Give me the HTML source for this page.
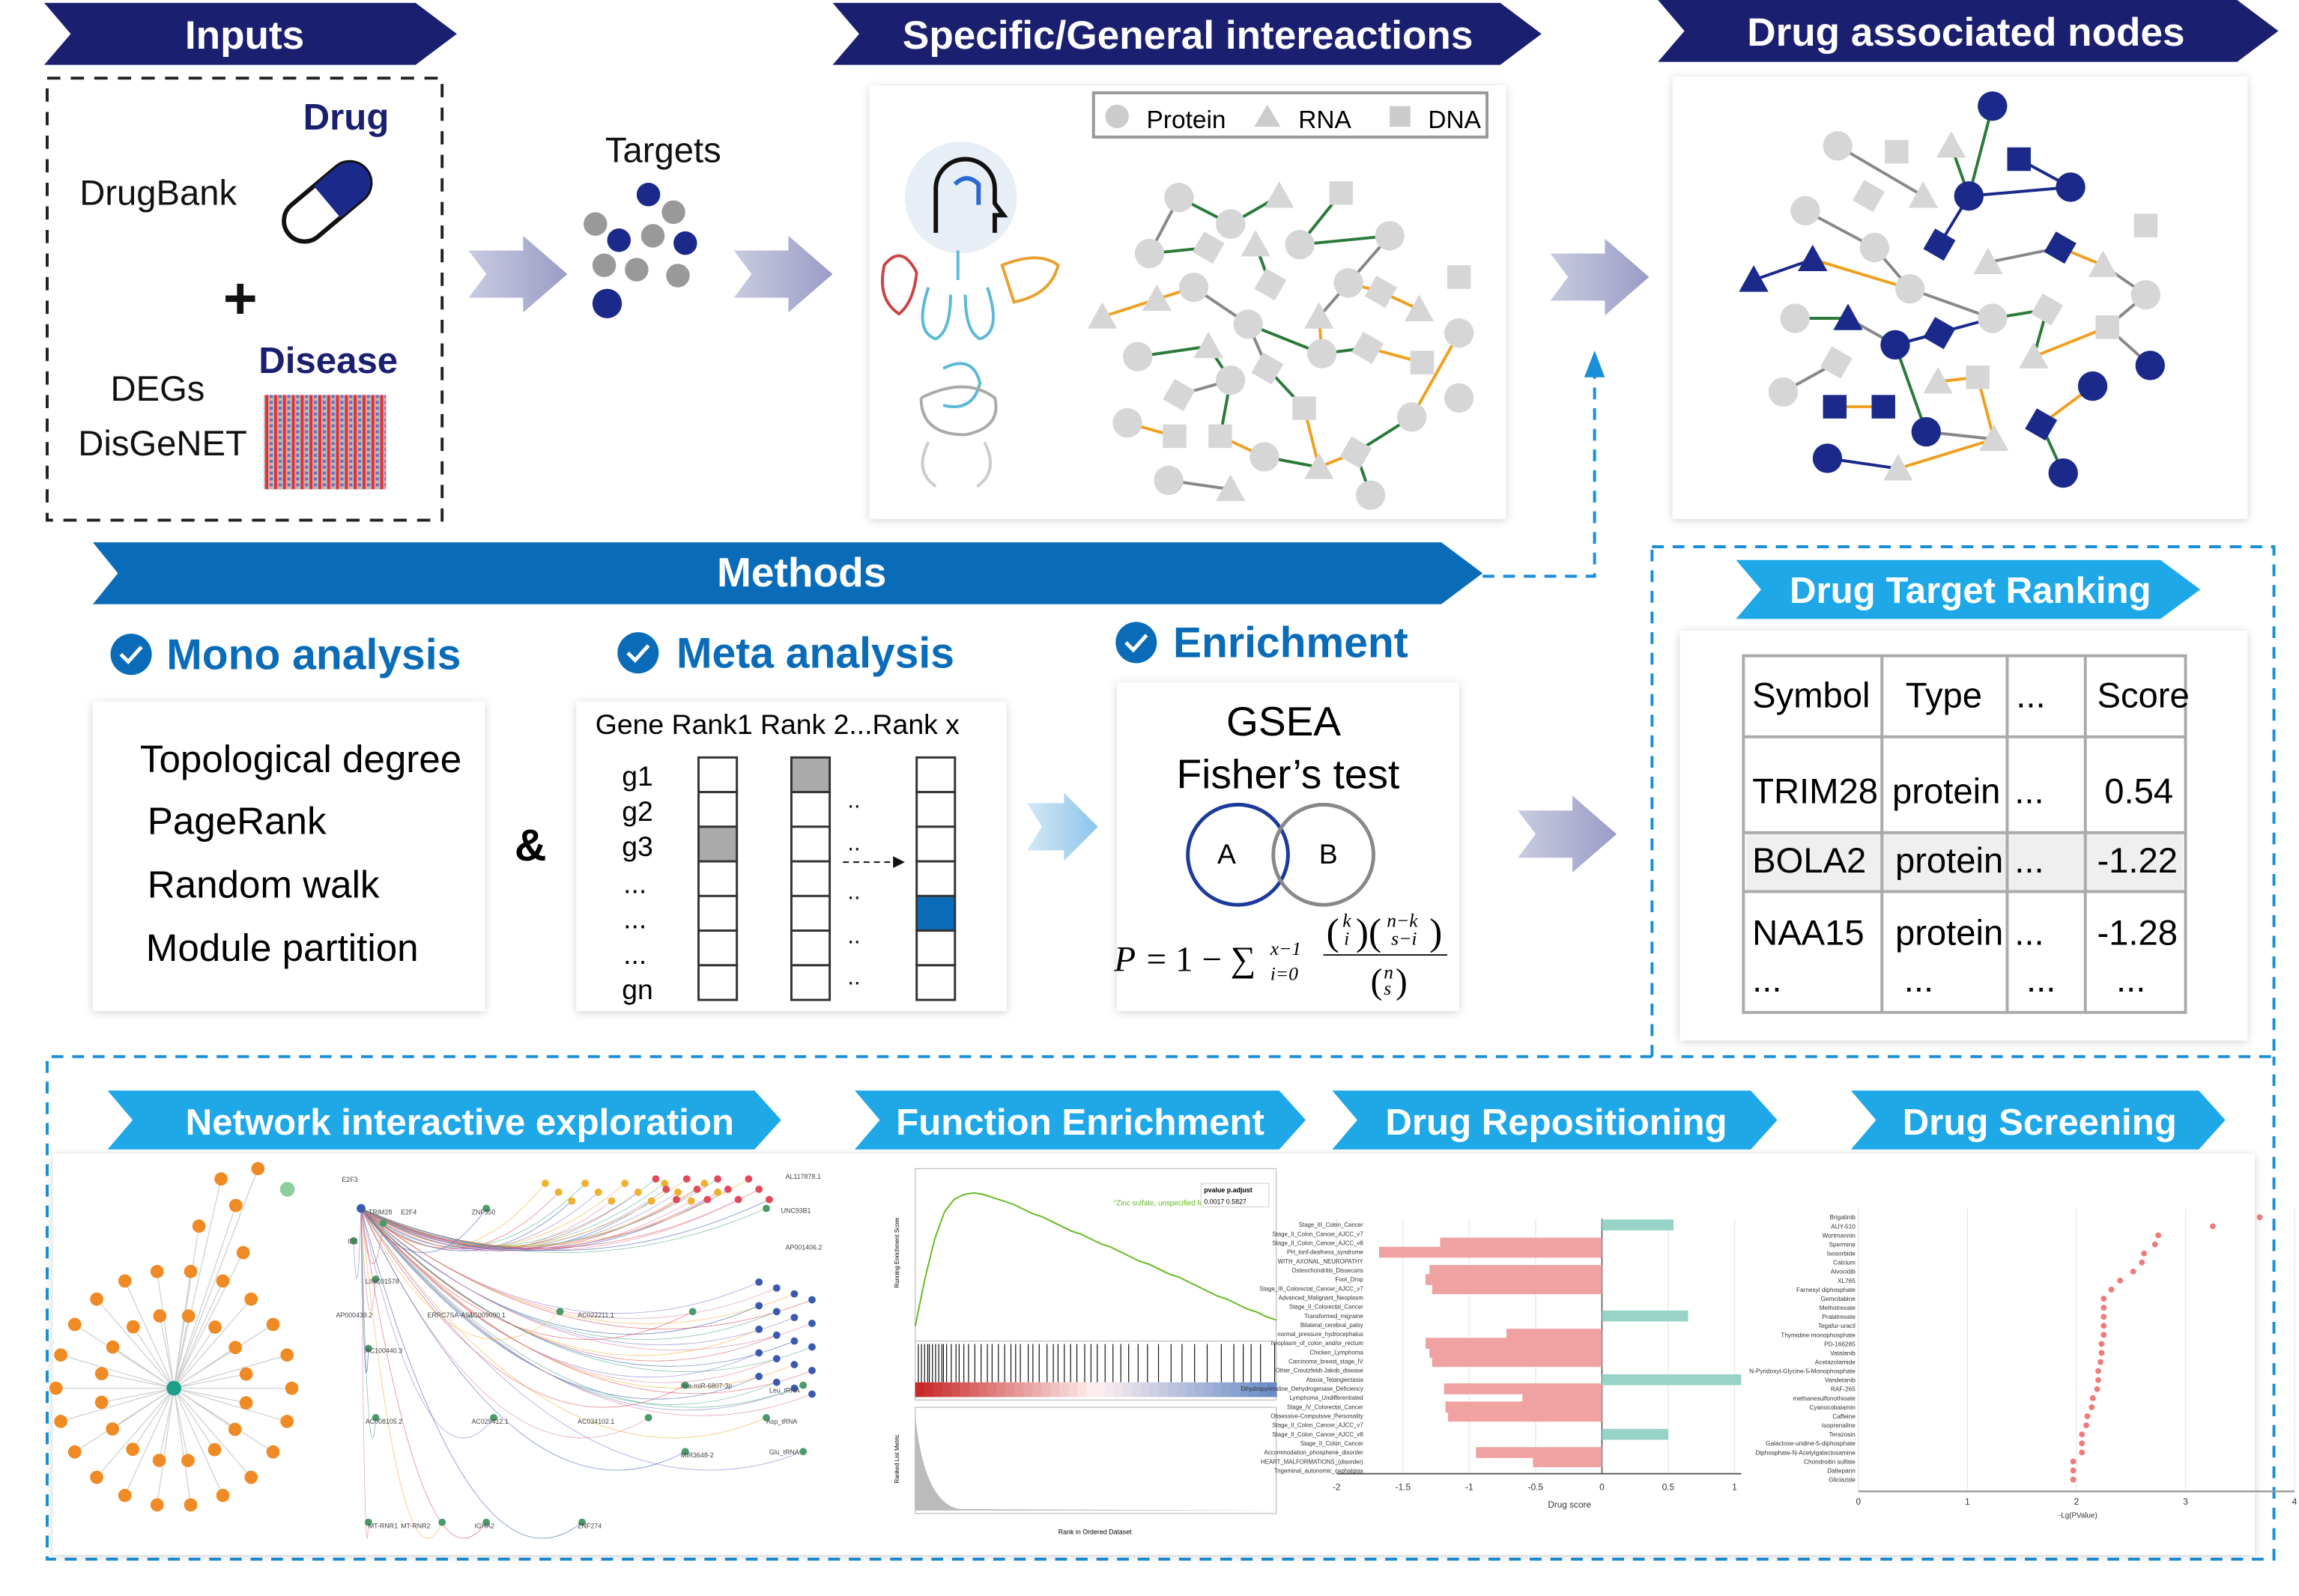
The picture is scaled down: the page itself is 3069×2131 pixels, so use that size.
<!DOCTYPE html>
<html><head><meta charset="utf-8">
<style>
html,body{margin:0;padding:0;background:#fff;}
svg{display:block;font-family:"Liberation Sans",Arial,sans-serif;}
</style></head>
<body>
<svg id="root" width="3069" height="2131" viewBox="0 0 1560 1083" preserveAspectRatio="none" xmlns="http://www.w3.org/2000/svg">
<defs>
<filter id="sh" x="-5%" y="-5%" width="110%" height="110%"><feDropShadow dx="0" dy="1" stdDeviation="3" flood-color="#000" flood-opacity="0.18"/></filter>
<linearGradient id="ga" x1="0" x2="1"><stop offset="0" stop-color="#c9cbe0"/><stop offset="1" stop-color="#9a9cc6"/></linearGradient>
<linearGradient id="gb" x1="0" x2="1"><stop offset="0" stop-color="#d4e8f6"/><stop offset="1" stop-color="#8cc4ea"/></linearGradient>
<pattern id="heat" width="6" height="4" patternUnits="userSpaceOnUse"><rect width="6" height="4" fill="#e8a0a8"/><rect width="2" height="4" fill="#d33"/><rect x="3" width="2" height="2" fill="#4a7ac8"/><rect x="4" y="2" width="2" height="2" fill="#9cc"/></pattern>
</defs>

<g>
<polygon points="30,2 282,2 310,23 282,44 30,44 48,23" fill="#1b1f70"/>
<text x="166" y="33" font-size="27" font-weight="bold" fill="#fff" text-anchor="middle">Inputs</text></g>
<g>
<polygon points="565,2 1018,2 1046,23 1018,44 565,44 583,23" fill="#1b1f70"/>
<text x="806" y="33" font-size="27" font-weight="bold" fill="#fff" text-anchor="middle">Specific/General intereactions</text></g>
<g>
<polygon points="1125,0 1518,0 1546,21 1518,42 1125,42 1143,21" fill="#1b1f70"/>
<text x="1334" y="31" font-size="27" font-weight="bold" fill="#fff" text-anchor="middle">Drug associated nodes</text></g>

<g>
<rect x="32" y="53" width="268" height="300" fill="none" stroke="#222" stroke-width="2" stroke-dasharray="9,7"/>
<text x="264" y="88" font-size="25" font-weight="bold" fill="#1b1f70" text-anchor="end">Drug</text>
<text x="54" y="139" font-size="24" fill="#111">DrugBank</text>
<g transform="translate(222,137) rotate(-40)">
<rect x="-34" y="-14" width="68" height="28" rx="14" fill="#fff" stroke="#111" stroke-width="3"/>
<path d="M0,-14 h20 a14,14 0 0 1 0,28 h-20 z" fill="#1b2a8a"/></g>
<text x="163" y="216" font-size="40" font-weight="bold" fill="#111" text-anchor="middle">+</text>
<text x="270" y="253" font-size="25" font-weight="bold" fill="#1b1f70" text-anchor="end">Disease</text>
<text x="75" y="272" font-size="24" fill="#111">DEGs</text>
<text x="53" y="309" font-size="24" fill="#111">DisGeNET</text>
<rect x="179" y="268" width="83" height="64" fill="url(#heat)"/>
</g>

<polygon points="318,170 355,170 355,160 385,186 355,212 355,202 318,202 330,186" fill="url(#ga)"/>
<polygon points="498,170 535,170 535,160 565,186 535,212 535,202 498,202 510,186" fill="url(#ga)"/>
<polygon points="1052,172 1089,172 1089,162 1119,188 1089,214 1089,204 1052,204 1064,188" fill="url(#ga)"/>

<g>
<text x="450" y="110" font-size="24" fill="#111" text-anchor="middle">Targets</text>
<circle cx="440" cy="132" r="8" fill="#1b2a8a"/><circle cx="404" cy="152" r="8" fill="#999"/><circle cx="420" cy="163" r="8" fill="#1b2a8a"/>
<circle cx="443" cy="160" r="8" fill="#999"/><circle cx="457" cy="144" r="8" fill="#999"/><circle cx="465" cy="165" r="8" fill="#1b2a8a"/>
<circle cx="410" cy="180" r="8" fill="#999"/><circle cx="432" cy="183" r="8" fill="#999"/><circle cx="460" cy="187" r="8" fill="#999"/><circle cx="412" cy="206" r="10" fill="#1b2a8a"/>
</g>

<g>
<rect x="590" y="58" width="432" height="294" fill="#fff" filter="url(#sh)"/>
<rect x="742" y="63" width="267" height="30" fill="#fff" stroke="#999" stroke-width="2"/>
<circle cx="758" cy="79" r="8" fill="#ccc"/><text x="778" y="87" font-size="17">Protein</text>
<polygon points="860,71 869,86 851,86" fill="#ccc"/><text x="881" y="87" font-size="17">RNA</text>
<rect x="943" y="72" width="14" height="14" fill="#ccc"/><text x="969" y="87" font-size="17">DNA</text>
<g fill="none" stroke-width="2">
<circle cx="652" cy="134" r="38" fill="#e8eef6" stroke="none"/>
<path d="M635,158 v-30 a20,20 0 0 1 40,0 v10 l6,8 h-6 v12" stroke="#111" stroke-width="3"/>
<path d="M648,125 q8,-8 16,0 v14" stroke="#2a6ad0" stroke-width="3"/>
<path d="M600,180 q12,-15 22,5 q-2,20 -12,28 q-15,-10 -10,-33z" stroke="#c44"/>
<path d="M650,170 v20 M630,195 q-10,30 5,35 q10,-5 10,-30 M670,195 q10,30 -5,35 q-10,-5 -10,-30" stroke="#5bb8d8"/>
<path d="M680,180 q25,-10 38,0 q-5,20 -30,25z" stroke="#e8a030"/>
<path d="M640,250 q20,-10 25,10 q-5,20 -25,15" stroke="#5bb8d8"/>
<path d="M625,270 q30,-15 50,0 q5,20 -20,25 q-30,0 -30,-25" stroke="#aaa"/>
<path d="M630,300 q-10,20 5,30 M668,300 q10,20 -5,30" stroke="#ccc"/>
</g>
<g id="net1"></g>
</g>

<g>
<rect x="1135" y="52" width="390" height="300" fill="#fff" filter="url(#sh)"/>
<g id="net2"></g>
</g>

<g>
<polygon points="63,368 978,368 1006,389 978,410 63,410 80,389" fill="#0a6cb8"/>
<text x="544" y="398" font-size="28" font-weight="bold" fill="#fff" text-anchor="middle">Methods</text></g>
<path d="M1006,391 H1082 V255" fill="none" stroke="#1a8fd8" stroke-width="2" stroke-dasharray="8,6"/>
<polygon points="1082,238 1075,256 1089,256" fill="#1a8fd8"/>

<g>
<circle cx="89" cy="444" r="14" fill="#0a6cb8"/><path d="M82,444 l5,5 l9,-10" stroke="#fff" stroke-width="2.5" fill="none"/>
<text x="113" y="454" font-size="29" font-weight="bold" fill="#0a6cb8">Mono analysis</text>
<rect x="63" y="476" width="266" height="210" fill="#fff" filter="url(#sh)"/>
<text x="95" y="524" font-size="26">Topological degree</text>
<text x="100" y="566" font-size="26">PageRank</text>
<text x="100" y="609" font-size="26">Random walk</text>
<text x="99" y="652" font-size="26">Module partition</text>
</g>
<text x="360" y="584" font-size="30" font-weight="bold" text-anchor="middle">&amp;</text>

<g>
<circle cx="433" cy="443" r="14" fill="#0a6cb8"/><path d="M426,443 l5,5 l9,-10" stroke="#fff" stroke-width="2.5" fill="none"/>
<text x="459" y="453" font-size="29" font-weight="bold" fill="#0a6cb8">Meta analysis</text>
<rect x="391" y="476" width="292" height="210" fill="#fff" filter="url(#sh)"/>
<text x="404" y="498" font-size="19">Gene Rank1 Rank 2...Rank x</text>
<g font-size="19"><text x="422" y="533">g1</text><text x="422" y="557">g2</text><text x="422" y="581">g3</text><text x="423" y="606">...</text><text x="423" y="630">...</text><text x="423" y="654">...</text><text x="422" y="678">gn</text></g>
<g id="rankcols"></g>
<g font-size="16" fill="#111"><text x="575" y="548">..</text><text x="575" y="577">..</text><text x="575" y="610">..</text><text x="575" y="640">..</text><text x="575" y="668">..</text></g>
<path d="M572,585 h38" stroke="#111" stroke-dasharray="4,3"/><polygon points="614,585 606,581 606,589" fill="#111"/>
</g>
<polygon points="697,545 722,545 722,538 745,561 722,584 722,577 697,577 707,561" fill="url(#gb)"/>

<g>
<circle cx="771" cy="436" r="14" fill="#0a6cb8"/><path d="M764,436 l5,5 l9,-10" stroke="#fff" stroke-width="2.5" fill="none"/>
<text x="796" y="446" font-size="29" font-weight="bold" fill="#0a6cb8">Enrichment</text>
<rect x="758" y="463" width="232" height="223" fill="#fff" filter="url(#sh)"/>
<text x="871" y="499" font-size="28" text-anchor="middle">GSEA</text>
<text x="874" y="535" font-size="28" text-anchor="middle">Fisher’s test</text>
<circle cx="840" cy="580" r="34" fill="none" stroke="#1b3a9a" stroke-width="2.5"/>
<circle cx="898" cy="580" r="34" fill="none" stroke="#888" stroke-width="2.5"/>
<text x="826" y="586" font-size="19">A</text><text x="895" y="586" font-size="19">B</text>
<g font-family="Liberation Serif,serif">
<text x="756" y="659" font-size="24" font-style="italic">P</text>
<text x="778" y="659" font-size="24">= 1 − ∑</text>
<text x="862" y="648" font-size="13" font-style="italic">x−1</text>
<text x="862" y="665" font-size="13" font-style="italic">i=0</text>
<text x="900" y="641" font-size="26">(</text><text x="911" y="629" font-size="13" font-style="italic">k</text><text x="912" y="641" font-size="13" font-style="italic">i</text><text x="920" y="641" font-size="26">)(</text>
<text x="941" y="629" font-size="13" font-style="italic">n−k</text><text x="944" y="641" font-size="13" font-style="italic">s−i</text><text x="970" y="641" font-size="26">)</text>
<line x1="898" y1="648" x2="982" y2="648" stroke="#111"/>
<text x="930" y="674" font-size="24">(</text><text x="939" y="664" font-size="13" font-style="italic">n</text><text x="939" y="675" font-size="13" font-style="italic">s</text><text x="947" y="674" font-size="24">)</text>
</g>
</g>
<polygon points="1030,550 1067,550 1067,540 1097,566 1067,592 1067,582 1030,582 1042,566" fill="url(#ga)"/>

<rect x="1121" y="371" width="422" height="346" fill="none" stroke="#1a8fd8" stroke-width="2" stroke-dasharray="8,6"/>
<g>
<polygon points="1178,380 1466,380 1493,400 1466,420 1178,420 1195,400" fill="#1ea8e8"/>
<text x="1337" y="409" font-size="25" font-weight="bold" fill="#fff" text-anchor="middle">Drug Target Ranking</text></g>
<g>
<rect x="1140" y="428" width="385" height="278" fill="#fff" filter="url(#sh)"/>
<rect x="1183" y="445" width="300" height="242" fill="none" stroke="#aaa" stroke-width="2"/>
<rect x="1185" y="565" width="296" height="40" fill="#efefef"/>
<g stroke="#aaa" stroke-width="2"><line x1="1277" y1="445" x2="1277" y2="687"/><line x1="1362" y1="445" x2="1362" y2="687"/><line x1="1415" y1="445" x2="1415" y2="687"/><line x1="1183" y1="500" x2="1483" y2="500"/><line x1="1183" y1="565" x2="1483" y2="565"/><line x1="1183" y1="605" x2="1483" y2="605"/></g>
<g font-size="24"><text x="1189" y="480">Symbol</text><text x="1293" y="480">Type</text><text x="1368" y="480">...</text><text x="1423" y="480">Score</text>
<text x="1189" y="545">TRIM28</text><text x="1284" y="545">protein</text><text x="1367" y="545">...</text><text x="1428" y="545">0.54</text>
<text x="1189" y="592">BOLA2</text><text x="1286" y="592">protein</text><text x="1367" y="592">...</text><text x="1423" y="592">-1.22</text>
<text x="1189" y="641">NAA15</text><text x="1286" y="641">protein</text><text x="1367" y="641">...</text><text x="1423" y="641">-1.28</text>
<text x="1189" y="673">...</text><text x="1292" y="673">...</text><text x="1375" y="673">...</text><text x="1436" y="673">...</text></g>
</g>

<path d="M1121,717 H32 V1058 H1543 V717" fill="none" stroke="#1a8fd8" stroke-width="2" stroke-dasharray="8,6"/>
<rect x="36" y="783" width="1494" height="272" fill="#fff" filter="url(#sh)"/>
<g><polygon points="73,740 512,740 530,760 512,780 73,780 90,760" fill="#1ea8e8"/><text x="312" y="770" font-size="25" font-weight="bold" fill="#fff" text-anchor="middle">Network interactive exploration</text></g>
<g><polygon points="580,740 868,740 886,760 868,780 580,780 597,760" fill="#1ea8e8"/><text x="733" y="770" font-size="25" font-weight="bold" fill="#fff" text-anchor="middle">Function Enrichment</text></g>
<g><polygon points="904,740 1188,740 1206,760 1188,780 904,780 921,760" fill="#1ea8e8"/><text x="1056" y="770" font-size="25" font-weight="bold" fill="#fff" text-anchor="middle">Drug Repositioning</text></g>
<g><polygon points="1256,740 1492,740 1510,760 1492,780 1256,780 1273,760" fill="#1ea8e8"/><text x="1384" y="770" font-size="25" font-weight="bold" fill="#fff" text-anchor="middle">Drug Screening</text></g>

<g id="star"></g>
<g id="arc"></g>
<g id="gsea"></g>
<g id="bars"></g>
<g id="dots"></g>
</svg>

<script>
const repoCategories = ["Stage_III_Colon_Cancer","Stage_II_Colon_Cancer_AJCC_v7","Stage_II_Colon_Cancer_AJCC_v8","PH_tonf-deafness_syndrome","WITH_AXONAL_NEUROPATHY","Osteochondritis_Dissecans","Foot_Drop","Stage_III_Colorectal_Cancer_AJCC_v7","Advanced_Malignant_Neoplasm","Stage_II_Colorectal_Cancer","Transformed_migraine","Bilateral_cerebral_palsy","normal_pressure_hydrocephalus","neoplasm_of_colon_and/or_rectum","Chicken_Lymphoma","Carcinoma_breast_stage_IV","Other_Creutzfeldt-Jakob_disease","Ataxia_Telangiectasia","Dihydropyrimidine_Dehydrogenase_Deficiency","Lymphoma_Undifferentiated","Stage_IV_Colorectal_Cancer","Obsessive-Compulsive_Personality","Stage_II_Colon_Cancer_AJCC_v7","Stage_II_Colon_Cancer_AJCC_v8","Stage_II_Colon_Cancer","Accommodation_phosphene_disorder","HEART_MALFORMATIONS_(disorder)","Trigeminal_autonomic_cephalgias"];
const repoScores = [0.54,0,-1.22,-1.68,0,-1.3,-1.33,-1.28,0,0,0.65,0,-0.72,-1.33,-1.3,-1.28,0,1.05,-1.19,-0.6,-1.18,-1.16,0,0.5,0,-0.95,-0.52,0];
const repoTicks = [-2,-1.5,-1,-0.5,0,0.5,1];
const screenDrugs = ["Brigatinib","AUY-510","Wortmannin","Spermine","Isosorbide","Calcium","Alvocidib","XL765","Farnesyl diphosphate","Gemcitabine","Methotrexate","Pralatrexate","Tegafur-uracil","Thymidine monophosphate","PD-166285","Vatalanib","Acetazolamide","N-Pyridoxyl-Glycine-5-Monophosphate","Vandetanib","RAF-265","methanesulfonothioate","Cyanocobalamin","Caffeine","Isoprenaline","Terazosin","Galactose-uridine-5-diphosphate","Diphosphate-N-Acetylgalactosamine","Chondroitin sulfate","Dalteparin","Gliclazide"];
const screenValues = [3.68,3.25,2.75,2.72,2.62,2.6,2.52,2.4,2.32,2.25,2.25,2.25,2.25,2.25,2.23,2.23,2.22,2.2,2.2,2.19,2.15,2.14,2.1,2.09,2.05,2.05,2.05,1.97,1.97,1.97];
const screenTicks = [0,1,2,3,4];
const gseaScores = [0,0.3,0.55,0.72,0.8,0.83,0.84,0.83,0.81,0.79,0.77,0.74,0.71,0.69,0.66,0.63,0.6,0.58,0.55,0.52,0.5,0.47,0.44,0.41,0.39,0.36,0.33,0.31,0.28,0.25,0.22,0.19,0.17,0.14,0.11,0.09,0.06,0.04];
const gseaHits = [2,4,6,8,9,11,13,15,17,18,20,23,26,28,31,34,38,42,46,49,53,57,61,64,67,72,75,79,84,88,91,95,99,103,108,112,116,121,126,131,136,142,148,155,163,170,178,186,195,203,209,214,220,229];

const NS="http://www.w3.org/2000/svg";
function mk(tag,attrs,parent){const e=document.createElementNS(NS,tag);for(const k in attrs)e.setAttribute(k,attrs[k]);parent.appendChild(e);return e;}
function tx(str,attrs,parent){const e=mk('text',attrs,parent);e.textContent=str;return e;}

(function(){
const g=document.getElementById('bars');
const x0=1087,ux=90,top=827,bottom=1000;
const xs=v=>x0+v*ux;
const rh=(bottom-top)/repoCategories.length;
repoTicks.forEach(t=>{mk('line',{x1:xs(t),x2:xs(t),y1:top,y2:bottom,stroke:'#e6e6e6','stroke-width':0.6},g);
tx(String(t),{x:xs(t),y:bottom+11,'font-size':6,'text-anchor':'middle',fill:'#333'},g);});
mk('line',{x1:xs(-2),x2:xs(1.05),y1:bottom,y2:bottom,stroke:'#555','stroke-width':1},g);
mk('line',{x1:x0,x2:x0,y1:top,y2:bottom,stroke:'#555','stroke-width':0.8},g);
repoScores.forEach((v,i)=>{
 const y=top+i*rh;
 const lbl=tx(repoCategories[i],{x:925,y:y+rh*0.9,'font-size':4,'text-anchor':'end',fill:'#333'},g);
 
 
 if(v!==0){const r=mk('rect',{x:Math.min(xs(v),x0),y:y+0.5,width:Math.abs(v)*ux,height:rh*1.2,fill:v>0?'#98d3c7':'#f0a2a2'},g);
 
 }
});
tx('Drug score',{x:1065,y:1023,'font-size':6,'text-anchor':'middle',fill:'#333'},g);
})();

(function(){
const g=document.getElementById('dots');
const x0=1261,ux=74,top=826,bottom=1004,axisY=1012;
const xs=v=>x0+v*ux;
screenTicks.forEach(t=>{mk('line',{x1:xs(t),x2:xs(t),y1:top-6,y2:axisY,stroke:'#e6e6e6','stroke-width':0.6},g);
tx(String(t),{x:xs(t),y:axisY+9,'font-size':6,'text-anchor':'middle',fill:'#333'},g);});
mk('line',{x1:x0,x2:xs(4),y1:axisY,y2:axisY,stroke:'#999','stroke-width':1.2},g);
const step=(bottom-top)/(screenValues.length-1);
screenValues.forEach((v,i)=>{const y=top+i*step;
 const l=tx(screenDrugs[i],{x:x0-2,y:y+1.5,'font-size':4.2,'text-anchor':'end',fill:'#333'},g);
 
 
 const c=mk('circle',{cx:xs(v),cy:y,r:2,fill:'#ee7c7c'},g);
 
 });
tx('-Lg(PValue)',{x:1410,y:1030,'font-size':5,'text-anchor':'middle',fill:'#333'},g);
})();

(function(){
const g=document.getElementById('gsea');
const L=621,R=866,T=798,B=905;
mk('rect',{x:L,y:T-5,width:R-L,height:B-T+10,fill:'none',stroke:'#bbb','stroke-width':0.6},g);
const ys=v=>B-5-(v/0.9)*(B-T-10);
const n=gseaScores.length;
let d='';gseaScores.forEach((v,i)=>{d+=(i?'L':'M')+(L+i*(R-L)/(n-1))+','+ys(v);});
const p=mk('path',{d:d,fill:'none',stroke:'#66bb22','stroke-width':1},g);


tx('"Zinc sulfate, unspecified form"',{x:790,y:818,'font-size':5,fill:'#66bb22','text-anchor':'middle'},g);
mk('rect',{x:815,y:803,width:46,height:16,fill:'#fff',stroke:'#ccc','stroke-width':0.5},g);
tx('pvalue   p.adjust',{x:817,y:809,'font-size':4.5,'font-weight':'bold'},g);
tx('0.0017   0.5827',{x:817,y:817,'font-size':4.5},g);
mk('rect',{x:L,y:910,width:R-L,height:40,fill:'#fff',stroke:'#bbb','stroke-width':0.6},g);
gseaHits.forEach(h=>{const x=L+h*(R-L)/230;const ln=mk('line',{x1:x,x2:x,y1:912,y2:938,stroke:'#111','stroke-width':0.6},g);
 
 });
for(let i=0;i<40;i++){const t=i/39;const r=t<0.5?Math.round(200+55*t*2):Math.round(255-150*(t-0.5)*2);const gg=t<0.5?Math.round(40+200*t*2):Math.round(240-100*(t-0.5)*2);const b=t<0.5?Math.round(40+200*t*2):Math.round(240-40*(t-0.5)*2);
 mk('rect',{x:L+i*(R-L)/40,y:938,width:(R-L)/40+0.5,height:10,fill:`rgb(${r},${gg},${b})`},g);}
mk('rect',{x:L,y:955,width:R-L,height:72,fill:'#fff',stroke:'#bbb','stroke-width':0.6},g);
mk('path',{d:`M${L},960 Q${L+6},1020 ${L+30},1024 L${R},1025 L${L},1025z`,fill:'#bbb'},g);
tx('Running Enrichment Score',{x:610,y:850,'font-size':4,transform:'rotate(-90 610 850)','text-anchor':'middle'},g);
tx('Ranked List Metric',{x:610,y:990,'font-size':4,transform:'rotate(-90 610 990)','text-anchor':'middle'},g);
tx('Rank in Ordered Dataset',{x:743,y:1041,'font-size':4.5,'text-anchor':'middle'},g);
})();

(function(){
const g=document.getElementById('star');
const cx=118,cy=942;
const pts=[];
for(let i=0;i<22;i++){const a=i/22*Math.PI*2;pts.push([cx+80*Math.cos(a),cy+80*Math.sin(a)]);}
for(let i=0;i<16;i++){const a=i/16*Math.PI*2+0.2;pts.push([cx+50*Math.cos(a),cy+50*Math.sin(a)]);}
pts.push([165,850],[150,800],[175,793],[160,818],[135,832]);
pts.forEach(p=>mk('line',{x1:cx,y1:cy,x2:p[0],y2:p[1],stroke:'#ccc','stroke-width':0.6},g));
pts.forEach(p=>mk('circle',{cx:p[0],cy:p[1],r:4.5,fill:'#f08a24'},g));
mk('circle',{cx:195,cy:807,r:5,fill:'#8ccf9a'},g);
mk('circle',{cx:cx,cy:cy,r:5,fill:'#1aa088'},g);
})();

(function(){
const g=document.getElementById('arc');
const src=[245,820];
const cols=['#f0b030','#e04a5a','#3a5ab0','#4aaa88','#8a7ad0','#e07aa0'];
const targets=[];
for(let i=0;i<14;i++)targets.push([370+i*9,803+(i%3)*6,0]);
for(let i=0;i<12;i++)targets.push([445+i*7,800+(i%3)*7,1]);
for(let i=0;i<20;i++)targets.push([515+(i%4)*12,870+i*4,2]);
[[260,830],[330,820],[520,820],[240,842],[255,868],[380,890],[470,890],[250,915],[255,962],[335,962],[440,962],[520,962],[465,940],[465,985],[545,940],[545,985],[250,1033],[300,1033],[330,1033],[395,1033]].forEach(p=>targets.push([p[0],p[1],3]));
targets.forEach((t,i)=>{const mx=(src[0]+t[0])/2,my=Math.max(src[1],t[1])+60;
 mk('path',{d:`M${src[0]},${src[1]} Q${mx},${my} ${t[0]},${t[1]}`,fill:'none',stroke:cols[(i+t[2])%6],'stroke-width':0.4,opacity:0.7},g);});
targets.forEach(t=>mk('circle',{cx:t[0],cy:t[1],r:2.5,fill:t[2]==0?'#f0b030':t[2]==1?'#e04a5a':t[2]==2?'#3a5ab0':'#4a9a6a'},g));
mk('circle',{cx:src[0],cy:src[1],r:3,fill:'#3a5ab0'},g);
[['E2F3',232,800],['TRIM28',250,822],['E2F4',272,822],['ZNF350',320,822],['ID1',236,842],['LINC01578',248,869],['AP000439.2',228,892],['ERRC7SA-AS1',290,892],['AC009090.1',318,892],['AC022211.1',392,892],['AC100440.3',248,916],['AC008105.2',248,964],['AC029412.1',320,964],['AC034102.1',392,964],['hsa-miR-6807-3p',462,940],['Leu_tRNA',522,943],['Asp_tRNA',520,964],['MIR3648-2',462,987],['Glu_tRNA',522,985],['MT-RNR1',250,1035],['MT-RNR2',272,1035],['IGHA2',322,1035],['ZNF274',392,1035],['AL117878.1',533,798],['UNC93B1',530,821],['AP001406.2',533,846]].forEach(l=>tx(l[0],{x:l[1],y:l[2]+2,'font-size':4.5,fill:'#444'},g));
})();

(function(){
const g=document.getElementById('rankcols');
[[474,[]],[537,[0]],[622,[4]]].forEach((c,ci)=>{
 for(let i=0;i<7;i++){let f='#fff';if(ci==0&&i==2)f='#aaa';if(ci==1&&i==0)f='#aaa';if(ci==2&&i==4)f='#0a6cb8';
 mk('rect',{x:c[0],y:514+i*23.5,width:26,height:23.5,fill:f,stroke:'#333','stroke-width':1.5},g);}
});
})();

function network(gid,nodes,edges){
 const g=document.getElementById(gid);
 edges.forEach(e=>{const a=nodes[e[0]],b=nodes[e[1]];mk('line',{x1:a[0],y1:a[1],x2:b[0],y2:b[1],stroke:e[2],'stroke-width':2},g);});
 nodes.forEach(n=>{const f=n[3];const s=n[2];
  if(s=='c')mk('circle',{cx:n[0],cy:n[1],r:n[4]||10,fill:f},g);
  else if(s=='t')mk('polygon',{points:`${n[0]},${n[1]-10} ${n[0]+10},${n[1]+8} ${n[0]-10},${n[1]+8}`,fill:f},g);
  else mk('rect',{x:n[0]-8,y:n[1]-8,width:16,height:16,fill:f,transform:s=='d'?`rotate(30 ${n[0]} ${n[1]})`:''},g);});
}
const G='#d6d6d6';
const n1=[[800,134,'c',G],[835,152,'c',G],[868,133,'t',G],[910,131,'s',G],[780,172,'c',G],[820,168,'d',G],[852,166,'t',G],[882,166,'c',G],[943,160,'c',G],[810,195,'c',G],[862,193,'d',G],[915,192,'c',G],[748,215,'t',G],[785,203,'t',G],[847,220,'c',G],[895,215,'t',G],[937,198,'d',G],[963,210,'t',G],[990,188,'s',G],[772,242,'c',G],[820,235,'t',G],[860,250,'d',G],[897,240,'c',G],[928,236,'d',G],[990,226,'c',G],[800,268,'d',G],[835,258,'c',G],[885,277,'s',G],[965,246,'s',G],[765,287,'c',G],[797,296,'s',G],[828,296,'s',G],[858,310,'c',G],[895,317,'t',G],[958,283,'c',G],[990,270,'c',G],[793,326,'c',G],[835,332,'t',G],[920,307,'d',G],[930,336,'c',G]];
const GR='#2a7a3a',OR='#f0a020';
network('net1',n1,[[0,1,GR],[1,2,GR],[3,7,GR],[4,5,GR],[7,8,GR],[6,10,GR],[9,14,'#888'],[12,13,OR],[13,9,OR],[14,22,GR],[15,22,OR],[11,16,OR],[16,17,OR],[19,20,GR],[20,26,GR],[22,23,GR],[21,27,GR],[23,28,OR],[24,34,OR],[25,26,'#888'],[26,31,GR],[29,30,OR],[31,32,OR],[32,33,GR],[27,33,OR],[33,38,OR],[34,38,GR],[36,37,'#888'],[38,39,GR],[14,21,'#888'],[8,15,'#888'],[0,4,'#888']]);
const B='#1b2a8a';
const n2=[[1352,72,'c',B],[1247,99,'c',G],[1287,103,'s',G],[1324,99,'t',G],[1370,108,'s',B],[1405,127,'c',B],[1268,133,'d',G],[1305,133,'t',G],[1336,133,'c',B],[1225,143,'c',G],[1456,153,'s',G],[1190,190,'t',B],[1230,176,'t',B],[1272,168,'c',G],[1316,166,'d',B],[1349,178,'t',G],[1398,168,'d',B],[1427,180,'t',G],[1296,196,'c',G],[1352,216,'c',G],[1389,210,'d',G],[1456,200,'c',G],[1218,216,'c',G],[1254,216,'t',B],[1286,234,'c',B],[1316,226,'d',B],[1380,242,'t',G],[1430,222,'s',G],[1246,246,'d',G],[1210,266,'c',G],[1245,276,'s',B],[1278,276,'s',B],[1315,259,'t',G],[1342,256,'s',G],[1420,262,'c',B],[1459,248,'c',B],[1307,293,'c',B],[1353,298,'t',G],[1385,288,'d',B],[1240,311,'c',B],[1288,318,'t',G],[1400,321,'c',B]];
network('net2',n2,[[0,8,GR],[3,8,GR],[4,5,'#1b2a8a'],[8,5,'#1b2a8a'],[8,14,'#1b2a8a'],[1,7,'#888'],[9,13,'#888'],[11,12,'#1b2a8a'],[12,18,OR],[15,16,'#888'],[16,17,OR],[13,18,'#888'],[18,19,'#888'],[19,20,GR],[19,24,'#1b2a8a'],[24,25,'#1b2a8a'],[22,23,GR],[23,24,'#888'],[26,27,OR],[27,35,'#888'],[21,27,'#888'],[24,36,GR],[28,29,'#888'],[30,31,OR],[32,33,OR],[33,37,OR],[36,37,'#888'],[37,40,OR],[38,41,GR],[34,38,OR],[39,40,'#1b2a8a'],[20,26,GR],[17,21,'#888']]);
</script>
</body></html>
